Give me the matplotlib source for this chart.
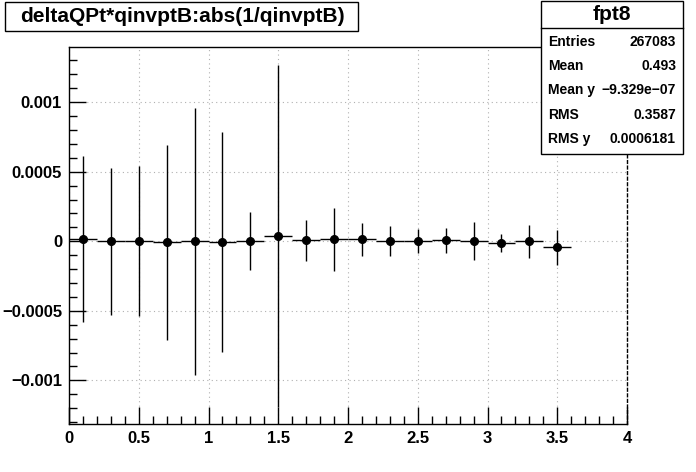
import numpy as np
import matplotlib
matplotlib.use("Agg")
from matplotlib import pyplot as plt
from matplotlib.patches import Rectangle
from matplotlib.ticker import MultipleLocator

plt.rcParams['font.family'] = ['Liberation Sans', 'DejaVu Sans']
plt.rcParams['font.weight'] = 'bold'

# bin centres, mean y per bin and its error
xc = [0.1, 0.3, 0.5, 0.7, 0.9, 1.1, 1.3, 1.5, 1.7, 1.9, 2.1, 2.3, 2.5, 2.7, 2.9, 3.1, 3.3, 3.5]
yv = [0.0000165, 0.0, 0.0, -0.000007, 0.0, -0.000007, 0.0, 0.000038, 0.000006, 0.000014,
      0.000014, 0.0, 0.0, 0.000007, 0.0, -0.000014, 0.0, -0.000043]
ye = [0.0006, 0.00053, 0.00054, 0.0007, 0.00096, 0.00079, 0.00021, 0.00123, 0.000147, 0.000225,
      0.000119, 0.000108, 0.000086, 0.00009, 0.000135, 0.000066, 0.00012, 0.000127]
binw = 0.1

titulo = "deltaQPt*qinvptB:abs(1/qinvptB)"
nombre = "fpt8"
stats = [("Entries", "267083"), ("Mean", "0.493"), ("Mean y", "\u22129.329e\u221207"),
         ("RMS", "0.3587"), ("RMS y", "0.0006181")]

fig = plt.figure(figsize=(6.96, 4.72), dpi=100)
ax = fig.add_axes([69/696, 48/472, 558/696, 377/472])

ax.errorbar(xc, yv, yerr=ye, xerr=binw, fmt='o', color='black', ms=5.5,
            elinewidth=1.0, capsize=0, zorder=3)

ax.set_xlim(0, 4)
ax.set_ylim(-0.001314, 0.001397)
ax.xaxis.set_minor_locator(MultipleLocator(0.1))
ax.yaxis.set_minor_locator(MultipleLocator(0.0001))
ax.set_xticks([0, 0.5, 1, 1.5, 2, 2.5, 3, 3.5, 4])
ax.set_xticklabels(["0", "0.5", "1", "1.5", "2", "2.5", "3", "3.5", "4"])
ax.set_yticks([-0.001, -0.0005, 0, 0.0005, 0.001])
ax.set_yticklabels(["\u22120.001", "\u22120.0005", "0", "0.0005", "0.001"])
ax.tick_params(which='both', direction='in', labelsize=12, width=1, color='black')
ax.tick_params(which='major', length=12, pad=5)
ax.tick_params(which='minor', length=6)
ax.tick_params(axis='x', which='both', top=False)
ax.tick_params(axis='y', which='both', right=False)
ax.grid(True, which='major', color='#b0b0b0', linestyle=(0, (1, 3)), linewidth=0.8)
for s in ax.spines.values():
    s.set_linewidth(1)
ax.spines['right'].set_linestyle((0, (2, 2)))

# caja del titulo
fig.patches.append(Rectangle((5/696, 1-31/472), 353/696, 29/472, transform=fig.transFigure,
                             facecolor='white', edgecolor='black', lw=1))
fig.text(182/696, 1-16/472, titulo, ha='center', va='center', fontsize=15, fontweight='bold')

# caja de estadisticas
fig.patches.append(Rectangle((541/696, 1-154/472), 142/696, 153/472, transform=fig.transFigure,
                             facecolor='white', edgecolor='black', lw=1, zorder=5))
fig.add_artist(plt.Line2D([541/696, 683/696], [1-28/472, 1-28/472], color='black', lw=1,
                          transform=fig.transFigure, zorder=6))
fig.text(612/696, 1-15/472, nombre, ha='center', va='center', fontsize=15, fontweight='bold', zorder=7)
filas_y = [42, 66, 90, 115, 139]
for (lab, val), py in zip(stats, filas_y):
    fig.text(548/696, 1-py/472, lab, ha='left', va='center', fontsize=10, fontweight='bold', zorder=7)
    fig.text(676/696, 1-py/472, val, ha='right', va='center', fontsize=10, fontweight='bold', zorder=7)

fig.savefig("out.png", dpi=100)
